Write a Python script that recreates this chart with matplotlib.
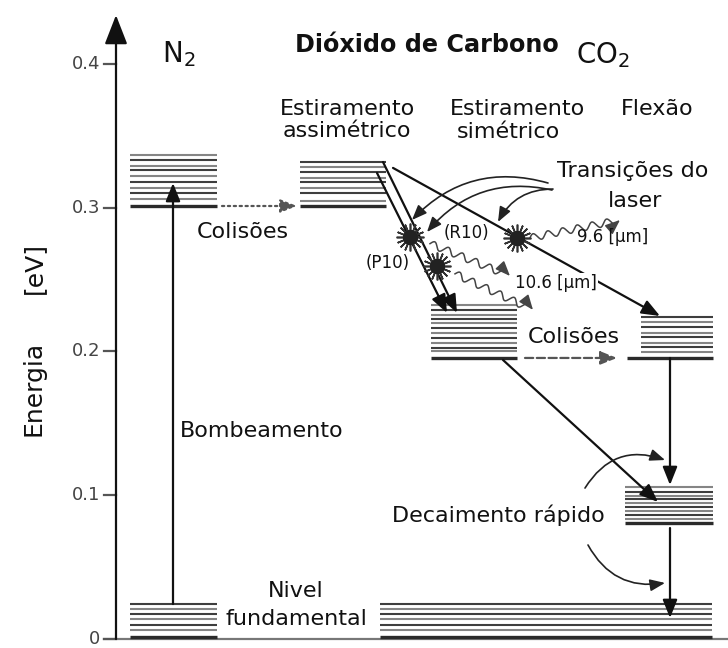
import numpy as np
import matplotlib.pyplot as plt
from matplotlib.patches import FancyArrowPatch

plt.rcParams['font.family'] = ['DejaVu Sans']

# energy levels in eV, one list per band
n2_upper = [0.301, 0.306, 0.310, 0.314, 0.318, 0.322, 0.326, 0.329, 0.333, 0.337]
co2_asym = [0.301, 0.305, 0.310, 0.314, 0.318, 0.321, 0.325, 0.328, 0.332]
co2_sym = [0.1955, 0.200, 0.2025, 0.206, 0.2095, 0.213, 0.216, 0.220, 0.2225, 0.2255, 0.229, 0.232]
co2_bend_upper = [0.1955, 0.1997, 0.2031, 0.2059, 0.2101, 0.2129, 0.2170, 0.2205, 0.2240]
co2_bend_mid = [0.0807, 0.0835, 0.0863, 0.0890, 0.0918, 0.0946, 0.0974, 0.0995, 0.1023, 0.1057]
ground = [0.0014, 0.0063, 0.0097, 0.0139, 0.0174, 0.0209, 0.0243]

# horizontal span of each band (diagram columns)
bands = [
    (n2_upper, 130, 217),
    (ground, 130, 217),
    (co2_asym, 300, 386),
    (co2_sym, 431, 517),
    (co2_bend_upper, 641, 713),
    (co2_bend_mid, 625, 713),
    (ground, 380, 712),
]

yticks = [0, 0.1, 0.2, 0.3, 0.4]
yticklabels = ['0', '0.1', '0.2', '0.3', '0.4']

# solid transitions: (x0, E0, x1, E1)
transitions = [
    (173, 0.0243, 173, 0.3172),    # bombeamento
    (383, 0.3318, 457, 0.2268),    # P10
    (377, 0.3242, 447, 0.2268),    # P10 (second line)
    (393, 0.3277, 660, 0.2247),    # R10 -> flexao
    (503, 0.1941, 658, 0.0953),    # simetrico -> flexao
    (670, 0.1955, 670, 0.1071),
    (670, 0.0772, 670, 0.0146),
]
# collision transfers (x0, x1, E, linestyle)
collisions = [(222, 297, 0.3012, ':'), (525, 617, 0.1955, '--')]

# laser photons: star position and wave end
stars_x = [410, 437, 517]
stars_e = [0.2797, 0.2595, 0.279]
waves = [(430, 0.2750, 510, 0.2525), (455, 0.2540, 533, 0.2289), (530, 0.2790, 620, 0.2915)]

# curved pointer arrows (x0, E0, x1, E1, rad)
pointers = [
    (548, 0.3172, 412, 0.2915, 0.3),
    (552, 0.3123, 427, 0.2831, 0.3),
    (553, 0.3130, 498, 0.2901, 0.30),
    (585, 0.1050, 665, 0.1245, -0.4),
    (588, 0.0654, 665, 0.0390, 0.35),
]

# text: (label, x, E baseline, ha, size, weight)
labels = [
    ('Dióxido de Carbono', 295, 0.4083, 'left', 17.2, 'bold'),
    ('CO$_2$', 576, 0.4005, 'left', 20, 'normal'),
    ('N$_2$', 162, 0.4014, 'left', 20, 'normal'),
    ('Estiramento', 347, 0.3645, 'center', 16, 'normal'),
    ('assimétrico', 347, 0.3492, 'center', 16, 'normal'),
    ('Estiramento', 517, 0.3645, 'center', 16, 'normal'),
    ('simétrico', 508, 0.3485, 'center', 16, 'normal'),
    ('Flexão', 657, 0.3645, 'center', 16, 'normal'),
    ('Transições do', 633, 0.3214, 'center', 16, 'normal'),
    ('laser', 635, 0.3005, 'center', 16, 'normal'),
    ('Colisões', 243, 0.2790, 'center', 16, 'normal'),
    ('Colisões', 574, 0.2059, 'center', 16, 'normal'),
    ('Bombeamento', 180, 0.1405, 'left', 16, 'normal'),
    ('Decaimento rápido', 392, 0.0814, 'left', 16, 'normal'),
    ('Nivel', 296, 0.0292, 'center', 16, 'normal'),
    ('fundamental', 296, 0.0097, 'center', 16, 'normal'),
    ('(R10)', 466, 0.2790, 'center', 12, 'normal'),
    ('(P10)', 388, 0.2580, 'center', 12, 'normal'),
    ('9.6 [µm]', 577, 0.2762, 'left', 12, 'normal'),
]

fig = plt.figure(figsize=(7.28, 6.48), dpi=100)
ax = fig.add_axes([0, 0, 1, 1])
ax.set_xlim(0, 728)
ax.set_ylim(-0.00626, 0.4445)
ax.axis('off')


def arrow(x0, y0, x1, y1, style='-|>,head_length=0.55,head_width=0.22', lw=1.6, color='#111', ls='-', rad=0, ms=20):
    ax.add_patch(FancyArrowPatch((x0, y0), (x1, y1), arrowstyle=style, mutation_scale=ms,
                                 lw=lw, color=color, linestyle=ls, shrinkA=0, shrinkB=0,
                                 connectionstyle='arc3,rad=%s' % rad, zorder=4))


# energy axis
arrow(116, 0, 116, 0.434, style='-|>,head_length=1.8,head_width=0.7', ms=10, lw=1.6)
ax.plot([104, 728], [0, 0], color='#777', lw=1.6, zorder=1)
for t, lab in zip(yticks, yticklabels):
    ax.plot([104, 116], [t, t], color='#555', lw=1.6)
    ax.text(100, t, lab, ha='right', va='center', fontsize=13, color='#444')
ax.text(34, 0.1743, 'Energia', rotation=90, ha='center', va='center', fontsize=18, color='#111')
ax.text(34, 0.2580, '[eV]', rotation=90, ha='center', va='center', fontsize=18, color='#111')

# bands
for levels, x0, x1 in bands:
    for i, e in enumerate(levels):
        if i == 0:
            ax.plot([x0 - 14 if levels is co2_bend_upper else x0, x1], [e, e],
                    color='#2a2a2a', lw=2.4, solid_capstyle='butt', zorder=2)
        else:
            c = '#858585' if i % 2 else '#3e3e3e'
            ax.plot([x0, x1], [e, e], color=c, lw=1.5, solid_capstyle='butt', zorder=2)

# transitions
for x0, e0, x1, e1 in transitions:
    arrow(x0, e0, x1, e1)
for x0, x1, e, ls in collisions:
    arrow(x0, e, x1, e, color='#555', ls=ls, lw=1.6, style='-|>,head_length=0.5,head_width=0.2')

# photon emission sites
ax.plot(stars_x, stars_e, ls='none', marker=(16, 2, 0), ms=20, mew=1.2, color='#333', zorder=5)
ax.plot(stars_x, stars_e, ls='none', marker='o', ms=10, color='#222', zorder=5)


def wavy(x0, y0, x1, y1, amp=3.5, wl=15):
    a = ax.transData.transform((x0, y0))
    b = ax.transData.transform((x1, y1))
    d = b - a
    L = np.hypot(*d)
    u = d / L
    n = np.array([-u[1], u[0]])
    s = np.linspace(0, L - 6, 300)
    pts = a + np.outer(s, u) + np.outer(amp * np.sin(2 * np.pi * s / wl), n)
    xy = ax.transData.inverted().transform(pts)
    ax.plot(xy[:, 0], xy[:, 1], color='#444', lw=1.1, zorder=4)
    e = ax.transData.inverted().transform(pts[-1])
    arrow(e[0], e[1], x1, y1, lw=1.1, color='#444', style='-|>,head_length=0.45,head_width=0.18')


for w in waves:
    wavy(*w)

for x0, e0, x1, e1, r in pointers:
    arrow(x0, e0, x1, e1, lw=1.2, color='#222', rad=r, style='-|>,head_length=0.45,head_width=0.18')

for txt, x, e, ha, size, weight in labels:
    ax.text(x, e, txt, ha=ha, va='baseline', fontsize=size, fontweight=weight, color='#111', zorder=6)
ax.text(515, 0.2442, '10.6 [µm]', ha='left', va='baseline', fontsize=12, color='#111', zorder=6,
        bbox=dict(facecolor='white', edgecolor='none', pad=1))

plt.savefig('out.png', dpi=100)
